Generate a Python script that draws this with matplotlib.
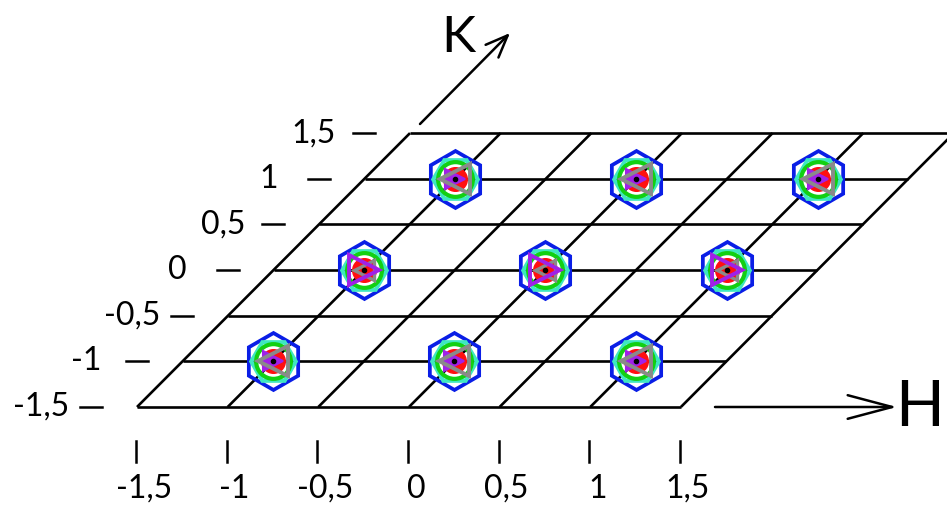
import matplotlib
matplotlib.use("Agg")
import matplotlib.pyplot as plt
from matplotlib.transforms import Affine2D

plt.rcParams['font.family'] = ['Lato', 'DejaVu Sans']

# Reciprocal-lattice grid (H, K) and tick labels
grid_levels = [-1.5, -1.0, -0.5, 0.0, 0.5, 1.0, 1.5]
tick_labels = ["-1,5", "-1", "-0,5", "0", "0,5", "1", "1,5"]

# Bragg spot positions
spot_h = [-1, 0, 1, -1, 0, 1, -1, 0, 1]
spot_k = [1, 1, 1, 0, 0, 0, -1, -1, -1]

W, H_PX = 947, 505
fig = plt.figure(figsize=(W / 100, H_PX / 100), dpi=100)
ax = fig.add_axes([0, 0, 1, 1])
ax.set_xlim(0, W)
ax.set_ylim(H_PX, 0)
ax.axis('off')

# Oblique lattice: H along x, K tilted up-right
skew = Affine2D.from_values(181.3, 0.0, 91.0, -91.3, 545.45, 270.05)
trans = skew + ax.transData

lo, hi = grid_levels[0], grid_levels[-1]
for v in grid_levels:
    ax.plot([lo, hi], [v, v], color='black', lw=1.9, transform=trans, zorder=1,
            solid_capstyle='butt')
    ax.plot([v, v], [lo, hi], color='black', lw=1.9, transform=trans, zorder=1,
            solid_capstyle='butt')

# K ticks and labels along the left edge
for v, lab in zip(grid_levels, tick_labels):
    x0, y0 = skew.transform((lo, v))
    ax.plot([x0 - 57, x0 - 35], [y0, y0], color='black', lw=1.8)
    ax.text(x0 - 96, y0, lab, fontsize=23, ha='center', va='center')

# H ticks and labels below the bottom edge
for v, lab in zip(grid_levels, tick_labels):
    x0, y0 = skew.transform((v, lo))
    ax.plot([x0 - 1, x0 - 1], [y0 + 34, y0 + 55], color='black', lw=1.8)
    ax.text(x0 + 7, y0 + 82, lab, fontsize=23, ha='center', va='center')

# Axis arrows and names
ax.annotate('', xy=(510, 33), xytext=(420, 124),
            arrowprops=dict(arrowstyle='->,head_length=1.6,head_width=0.65',
                            lw=1.8, color='black', mutation_scale=10,
                            shrinkA=0, shrinkB=0))
ax.text(458, 38, 'K', fontsize=37, ha='center', va='center')
ax.annotate('', xy=(897, 407), xytext=(715, 407),
            arrowprops=dict(arrowstyle='->,head_length=3.2,head_width=0.85',
                            lw=1.8, color='black', mutation_scale=10,
                            shrinkA=0, shrinkB=0))
ax.text(944, 408, 'H', fontsize=46, ha='right', va='center')

# Spot markers: concentric intensity contours
kw = dict(transform=trans, linestyle='none')
ax.plot(spot_h, spot_k, marker='h', ms=41, mfc='none', mec='#0a1ee6', mew=2.7, zorder=3, **kw)
ax.plot(spot_h, spot_k, marker='H', ms=32, mfc='none', mec='#3ee8c0', mew=3.0, zorder=3, **kw)
ax.plot(spot_h, spot_k, marker='o', ms=25, mfc='none', mec='#12d012', mew=3.0, zorder=4, **kw)
ax.plot(spot_h, spot_k, marker='o', ms=17, mfc='#ff1010', mec='#ff1010', mew=1.0, zorder=5, **kw)

k0_h = [h for h, k in zip(spot_h, spot_k) if k == 0]
k0_k = [k for k in spot_k if k == 0]
kn_h = [h for h, k in zip(spot_h, spot_k) if k != 0]
kn_k = [k for k in spot_k if k != 0]

ax.plot(k0_h, k0_k, marker='<', ms=15, mfc='none', mec='#8a8a8a', mew=2.4, zorder=6, **kw)
ax.plot(k0_h, k0_k, marker='>', ms=22, mfc='none', mec='#a020e8', mew=2.8, zorder=7, **kw)
ax.plot(kn_h, kn_k, marker='>', ms=15, mfc='#a020e8', mec='#a020e8', mew=1.5, zorder=6, **kw)
ax.plot(kn_h, kn_k, marker='<', ms=22, mfc='none', mec='#8a8a8a', mew=2.8, zorder=7, **kw)
ax.plot(spot_h, spot_k, marker='o', ms=3, mfc='black', mec='black', zorder=8, **kw)

fig.savefig('out.png', dpi=100)
